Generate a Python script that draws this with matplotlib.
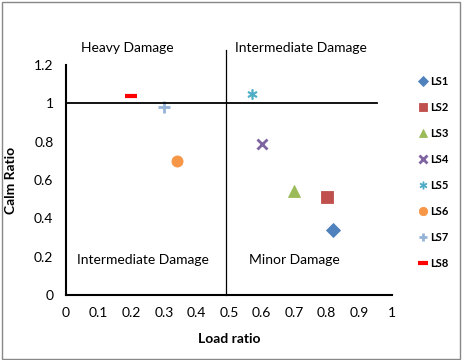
import matplotlib.pyplot as plt
from matplotlib.patches import Rectangle

plt.rcParams['font.family'] = ['Lato', 'DejaVu Sans']

series = ["LS1", "LS2", "LS3", "LS4", "LS5", "LS6", "LS7", "LS8"]
load_ratio = [0.82, 0.80, 0.70, 0.60, 0.57, 0.34, 0.30, 0.20]
calm_ratio = [0.34, 0.51, 0.54, 0.79, 1.05, 0.70, 0.98, 1.04]
markers = ["D", "s", "^", "x", "$\u2217$", "o", "+", "_"]
colors = ["#4F81BD", "#C0504D", "#9BBB59", "#8064A2", "#4BACC6",
          "#F79646", "#95B3D7", "#FF0000"]
sizes = [7, 8, 8, 7, 7, 8, 8, 9]

fig = plt.figure(figsize=(4.66, 3.6), dpi=100)
ax = fig.add_axes([0.1416, 0.1806, 0.6994, 0.6389])

for name, x, y, m, c, s in zip(series, load_ratio, calm_ratio, markers, colors, sizes):
    mew = 3 if m == "_" else 2 if m in ("x", "+") else 0.6
    ax.plot([x], [y], linestyle="none", marker=m, color=c, markersize=s,
            markeredgewidth=mew, label=name)

# quadrant lines
ax.plot([0, 0.955], [1, 1], color="black", lw=1.3)
ax.plot([0.49, 0.49], [0, 1.28], color="black", lw=0.9, clip_on=False)

ax.set_xlim(0, 1)
ax.set_ylim(0, 1.2)
ax.set_xticks([0, 0.1, 0.2, 0.3, 0.4, 0.5, 0.6, 0.7, 0.8, 0.9, 1])
ax.set_xticklabels(["0", "0.1", "0.2", "0.3", "0.4", "0.5", "0.6", "0.7", "0.8", "0.9", "1"])
ax.set_yticks([0, 0.2, 0.4, 0.6, 0.8, 1.0, 1.2])
ax.set_yticklabels(["0", "0.2", "0.4", "0.6", "0.8", "1", "1.2"])
ax.tick_params(length=0, labelsize=10, pad=9)
ax.spines["top"].set_visible(False)
ax.spines["right"].set_visible(False)
ax.spines["left"].set_linewidth(1.5)
ax.spines["bottom"].set_linewidth(1.5)

ax.set_xlabel("Load ratio", fontsize=10, fontweight="bold", labelpad=10)
ax.set_ylabel("Calm Ratio", fontsize=10, fontweight="bold", labelpad=12)

ax.text(0.045, 1.29, "Heavy Damage", fontsize=10, va="center", clip_on=False)
ax.text(0.52, 1.29, "Intermediate Damage", fontsize=10, va="center", clip_on=False)
ax.text(0.035, 0.18, "Intermediate Damage", fontsize=10, va="center")
ax.text(0.56, 0.18, "Minor Damage", fontsize=10, va="center")

fig.legend(loc="center left", bbox_to_anchor=(0.875, 0.52), frameon=False,
           handlelength=0.9, handletextpad=0.2, labelspacing=1.35,
           markerscale=0.75, prop={"weight": "bold", "size": 8})

fig.patches.append(Rectangle((0.004, 0.004), 0.984, 0.99, transform=fig.transFigure,
                             fill=False, edgecolor="#888888", lw=1))

plt.savefig("out.png", dpi=100)
